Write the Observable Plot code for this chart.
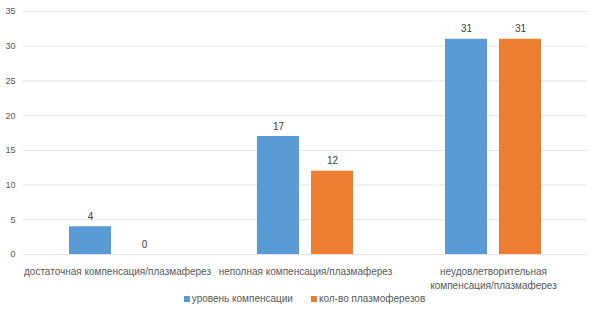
<!DOCTYPE html>
<html><head><meta charset="utf-8">
<script src="https://cdn.jsdelivr.net/npm/d3@7"></script>
<script src="https://cdn.jsdelivr.net/npm/@observablehq/plot@0.6"></script>
<style>
body{margin:0;background:#fff;font-family:"Liberation Sans",Arial,sans-serif;}
#legend{display:flex;justify-content:center;gap:18px;font-size:10px;color:#595959;height:17px;align-items:center;padding-left:8px;}
#legend span.sw{display:inline-block;width:6px;height:6px;margin-right:2px;vertical-align:middle;}
</style></head><body>
<div id="chart"></div>
<div id="legend"></div>
<script>
const categories = ["достаточная компенсация/плазмаферез", "неполная компенсация/плазмаферез", "неудовлетворительная\nкомпенсация/плазмаферез"];
const series = ["уровень компенсации", "кол-во плазмоферезов"];
const compensation = [4, 17, 31];
const plasmapheresis = [0, 12, 31];
const colors = ["#5B9BD5", "#ED7D31"];
const yTicks = [0, 5, 10, 15, 20, 25, 30, 35];

const data = [];
categories.forEach((c, i) => {
  data.push({cat: c, series: series[0], value: compensation[i]});
  data.push({cat: c, series: series[1], value: plasmapheresis[i]});
});

const chart = Plot.plot({
  width: 601,
  height: 290,
  marginTop: 11,
  marginBottom: 36,
  marginLeft: 22,
  marginRight: 14,
  style: {fontFamily: "Liberation Sans, Arial, sans-serif", color: "#595959", background: "#fff"},
  fx: {domain: categories, padding: 0, label: null},
  x: {domain: series, paddingInner: 0.222, paddingOuter: 0.85, axis: null},
  y: {domain: [0, 35], label: null},
  color: {domain: series, range: colors},
  marks: [
    Plot.gridY(yTicks, {stroke: "#e3e3e3", strokeOpacity: 1}),
    Plot.axisY(yTicks, {tickSize: 0, tickPadding: 8, fontSize: 9, fill: "#595959", label: null}),
    Plot.axisFx({anchor: "bottom", tickSize: 0, tickPadding: 10, fontSize: 10, lineHeight: 1.45, fill: "#595959", label: null}),
    Plot.barY(data, {fx: "cat", x: "series", y: "value", fill: "series"}),
    Plot.text(data, {fx: "cat", x: "series", y: "value", text: d => String(d.value), dy: -10, fontSize: 10, fill: "#404040"})
  ]
});
document.getElementById("chart").appendChild(chart);

const legend = document.getElementById("legend");
series.forEach((s, i) => {
  const item = document.createElement("div");
  const sw = document.createElement("span");
  sw.className = "sw";
  sw.style.background = colors[i];
  item.appendChild(sw);
  item.appendChild(document.createTextNode(s));
  legend.appendChild(item);
});
</script>
</body></html>
